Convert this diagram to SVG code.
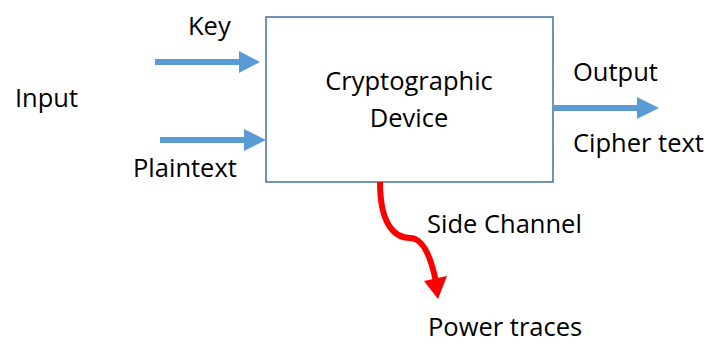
<svg xmlns="http://www.w3.org/2000/svg" width="709" height="345" viewBox="0 0 709 345">
<style>
text{font-family:"Open Sans","Liberation Sans",sans-serif;font-size:25.5px;fill:#000}
.blue{stroke:#5B9BD5;stroke-width:6;fill:none}
.bh{fill:#5B9BD5}
</style>
<rect width="709" height="345" fill="#fff"/>
<g id="device">
<rect x="266" y="17" width="287" height="165" fill="#fff" stroke="#41719C" stroke-width="1.5"/>
<text x="409" y="90" text-anchor="middle">Cryptographic</text>
<text x="409" y="127" text-anchor="middle">Device</text>
</g>
<g id="labels">
<text x="188" y="35">Key</text>
<text x="15" y="107">Input</text>
<text x="133" y="177">Plaintext</text>
<text x="573" y="81">Output</text>
<text x="573" y="152">Cipher text</text>
<text x="427" y="233">Side Channel</text>
<text x="428" y="336">Power traces</text>
</g>
<g id="connectors">
<line class="blue" x1="155" y1="62" x2="242" y2="62"/>
<polygon class="bh" points="239,51 260,62 239,73"/>
<line class="blue" x1="160" y1="140" x2="247" y2="140"/>
<polygon class="bh" points="244,129 266,140 244,151"/>
<line class="blue" x1="553" y1="108" x2="640" y2="108"/>
<polygon class="bh" points="637,97 659,108 637,119"/>
<path d="M380,182 C380,225 395,238 410,238 C425,238 432,262 436,282" stroke="#FF0000" stroke-width="6" fill="none"/>
<polygon points="424,281 447,276 438,299" fill="#FF0000"/>
</g>
</svg>
